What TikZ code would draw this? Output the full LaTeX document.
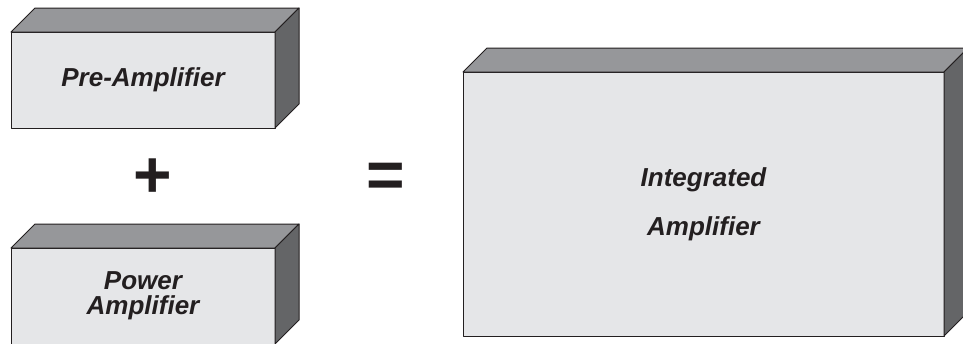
\documentclass[tikz,border=0pt]{standalone}
\usepackage{fontspec}
\setmainfont{Liberation Sans}
\definecolor{facegray}{RGB}{229, 230, 232}
\definecolor{topgray}{RGB}{150, 151, 154}
\definecolor{sidegray}{RGB}{100, 101, 103}
\definecolor{inkblack}{RGB}{35, 31, 32}
\usetikzlibrary{positioning, calc}

% top and right faces of a front node
\newcommand{\boxsides}[1]{%
  \draw[edge, fill=topgray] (#1.north west) -- ++(24,-24) -- ($(#1.north east)+(24,-24)$) -- (#1.north east) -- cycle;
  \draw[edge, fill=sidegray] (#1.north east) -- ++(24,-24) -- ($(#1.south east)+(24,-24)$) -- (#1.south east) -- cycle;
}

\begin{document}
\begin{tikzpicture}[
  x=1pt, y=-1pt,
  edge/.style={draw=inkblack, line width=1pt, line join=round},
  front/.style={edge, fill=facegray, outer sep=0pt, inner sep=0pt, align=center, text=inkblack,
    font=\fontsize{26}{25}\selectfont\bfseries\itshape},
  sign/.style={text=inkblack, inner sep=0pt, font=\fontsize{66}{66}\selectfont\bfseries}
]
  \useasboundingbox (0,0) rectangle (963,343);
  \clip (0,0) rectangle (963,343);

  \node[front, minimum width=264pt, minimum height=96pt] (pre) at (143, 80) {Pre-Amplifier};
  \boxsides{pre}

  \node[front, minimum width=264pt, minimum height=96pt] (power) at (143, 296) {Power\\Amplifier};
  \boxsides{power}

  \node[front, minimum width=481pt, minimum height=264pt] (integ) at (703.5, 204) {Integrated\\[24pt]Amplifier};
  \boxsides{integ}

  \node[sign] (plus) at (153, 178) {+};
  \node[sign] (eq) at (386, 180) {=};
\end{tikzpicture}
\end{document}
